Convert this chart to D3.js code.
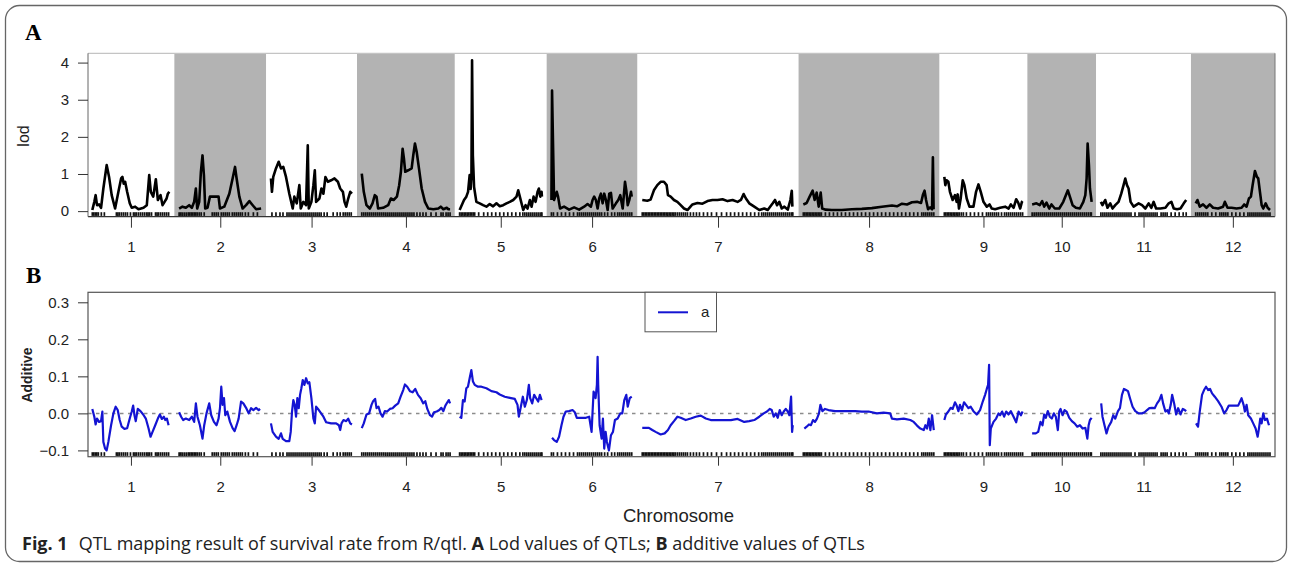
<!DOCTYPE html>
<html>
<head>
<meta charset="utf-8">
<script src="https://cdn.jsdelivr.net/npm/d3@7"></script>
<style>
  body { margin: 0; background: #fff; }
  svg { display: block; }
  .axis text { font-family: "Liberation Sans", Arial, sans-serif; font-size: 15px; fill: #222; }
  .axis line { stroke: #333; }
</style>
</head>
<body>
<svg id="chart" width="1290" height="564"></svg>
<script>
// chromosome layout (cM)
const chromosomes = ['1', '2', '3', '4', '5', '6', '7', '8', '9', '10', '11', '12']
const chrLengths = [77, 82, 81, 88, 82, 81, 151, 131, 78, 59, 85, 74]
const gap = 9.5
const lodTicks = [0, 1, 2, 3, 4]
const addTicks = [-0.1, 0, 0.1, 0.2, 0.3]

// lod profile per chromosome: [position within chromosome, lod]
const lodCurves = [
  [[0,0.03],[2,0.25],[3.3,0.43],[4.7,0.16],[6.7,0.18],[8.7,0.09],[11,0.61],[14.3,1.24],[16.7,0.92],[19.3,0.43],[22.7,0.07],[26,0.52],[28.7,0.88],[30,0.92],[31.3,0.74],[32.7,0.79],[34.7,0.52],[37.3,0.21],[39.3,0.09],[42.7,0.12],[46,0.05],[51,0.09],[54.3,0.16],[56.7,0.97],[58.3,0.52],[60.7,0.39],[63.3,0.86],[65.3,0.3],[68,0.43],[70,0.16],[72,0.25],[74,0.34],[75.3,0.47],[76.7,0.52]],
  [[0,0.07],[3.3,0.12],[6.7,0.09],[10,0.16],[12.7,0.09],[15,0.25],[16.7,0.61],[18,0.07],[20,0.25],[21.7,1.06],[23.3,1.5],[24.7,0.97],[26,0.07],[28.3,0.09],[30.7,0.39],[39.3,0.39],[40.7,0.07],[45,0.12],[50,0.47],[53.3,0.88],[55.7,1.19],[57.3,0.88],[60,0.39],[63.3,0.07],[66.7,0.16],[70,0.27],[72.7,0.18],[76.7,0.05],[81.7,0.07]],
  [[0,0.88],[1,0.52],[2.3,0.92],[5,1.15],[7.7,1.33],[10,1.15],[12.3,1.19],[15,0.92],[18.3,0.47],[21.7,0.07],[23.3,0.39],[25.7,0.21],[28.3,0.7],[29.7,0.07],[32.3,0.25],[35,0.16],[36.7,1.77],[37.7,0.07],[40.3,0.25],[42.3,0.7],[43.7,1.1],[45,0.25],[48.3,0.34],[50.3,0.61],[52.3,0.47],[54.3,0.92],[56.7,0.79],[60,0.83],[63.3,0.88],[66.7,0.79],[69,0.61],[71.7,0.52],[73.3,0.25],[75,0.12],[77,0.34],[79,0.52],[80.7,0.47]],
  [[0,1.01],[2,0.52],[4.7,0.16],[8,0.07],[10.7,0.21],[13,0.43],[14.7,0.39],[16.3,0.07],[21.3,0.09],[26.3,0.16],[29,0.34],[31.7,0.3],[35,0.39],[37.3,0.7],[39,1.06],[40.7,1.68],[42,1.42],[43.3,1.06],[46.3,1.1],[49.7,1.15],[51.3,1.5],[53,1.82],[54.7,1.6],[57,1.15],[59.7,0.61],[63,0.25],[66.3,0.07],[71.3,0.05],[76.3,0.07],[78.7,0.12],[81.3,0.05],[84.7,0.09],[86.3,0.05],[88,0.05]],
  [[0,0.03],[4.4,0.3],[6.7,0.39],[8.4,0.52],[10,0.97],[11,0.6],[11.8,1.0],[12.4,4.06],[13.2,1.5],[14.4,0.65],[16.7,0.25],[20,0.21],[23.4,0.16],[26.7,0.12],[30,0.19],[33.4,0.13],[36.7,0.21],[40,0.13],[43.4,0.16],[46.7,0.21],[50,0.25],[53.4,0.3],[56.7,0.39],[58.4,0.56],[60,0.39],[61.7,0.21],[63.4,0.03],[65.7,0.16],[67.7,0.07],[70,0.3],[71.7,0.12],[73.7,0.39],[75.7,0.25],[77.7,0.52],[79,0.61],[80.4,0.39],[81.7,0.52],[82,0.39]],
  [[0,0.3],[0.6,3.25],[2.6,0.3],[5.3,0.52],[6.6,0.39],[8.6,0.07],[12.6,0.12],[17.6,0.04],[22.6,0.1],[27.6,0.04],[32.6,0.12],[36,0.19],[39.3,0.12],[41,0.3],[42.6,0.39],[44.3,0.3],[46,0.07],[47.6,0.34],[49.3,0.47],[51,0.21],[52.6,0.47],[54.3,0.3],[56,0.03],[57.6,0.47],[59.3,0.49],[61,0.07],[64.3,0.21],[66.6,0.3],[68.6,0.43],[71,0.07],[73.3,0.79],[74.6,0.56],[76,0.16],[77.6,0.3],[79.3,0.52],[80,0.39]],
  [[0,0.3],[5,0.28],[8.3,0.31],[11.6,0.56],[15,0.7],[18.3,0.79],[21.6,0.79],[24.3,0.7],[25.6,0.43],[28.3,0.39],[31.6,0.3],[35,0.25],[38.3,0.16],[41.6,0.07],[45,0.03],[50,0.18],[55,0.22],[60,0.2],[65,0.27],[70,0.3],[75,0.3],[80,0.32],[85,0.27],[90,0.3],[95,0.25],[98.3,0.3],[101,0.46],[103.3,0.34],[106.6,0.21],[111.6,0.12],[116.6,0.03],[121.6,0.07],[125,0.03],[130,0.21],[132.3,0.3],[134.3,0.16],[136.6,0.25],[139,0.07],[141.6,0.12],[145,0.04],[147.6,0.3],[149,0.55],[149.6,0.12]],
  [[0,0.18],[3.3,0.22],[6.3,0.39],[9.3,0.55],[11.3,0.3],[13.3,0.5],[15.3,0.12],[17.3,0.5],[18.8,0.07],[22.3,0.04],[28.3,0.03],[38.3,0.03],[48.3,0.05],[58.3,0.06],[68.3,0.08],[78.3,0.12],[88.3,0.15],[93.3,0.13],[98.3,0.2],[103.3,0.18],[108.3,0.24],[113.3,0.25],[117.3,0.22],[119.3,0.45],[120.8,0.55],[122.3,0.3],[124.3,0.05],[126.3,0.1],[128.3,0.05],[129.1,1.45],[129.8,0.05]],
  [[0,0.92],[1,0.7],[2.3,0.83],[4,0.79],[5.6,0.52],[8.3,0.3],[10.6,0.43],[12.3,0.25],[13.3,0.45],[14.6,0.07],[16.3,0.34],[18.3,0.83],[20,0.7],[22.3,0.34],[25,0.12],[29,0.12],[31.6,0.52],[34,0.72],[36.3,0.52],[39,0.25],[42.3,0.12],[45,0.18],[47.3,0.07],[50.6,0.05],[55.6,0.09],[60.6,0.12],[64,0.07],[66.3,0.18],[69,0.09],[71.6,0.32],[73.6,0.23],[75.6,0.07],[77.3,0.25],[78,0.27]],
  [[0,0.18],[4.3,0.21],[7.6,0.16],[10,0.27],[12,0.12],[14.3,0.23],[17,0.07],[19.3,0.18],[22.6,0.07],[27,0.07],[31,0.25],[33.6,0.43],[35.6,0.56],[37.6,0.39],[40.3,0.16],[43.6,0.09],[47.6,0.07],[51,0.25],[53,0.43],[54.3,0.88],[55.3,1.82],[56.6,1.24],[57.6,0.61],[59.3,0.25]],
  [[0,0.25],[1.6,0.16],[4.3,0.3],[6.6,0.09],[9.3,0.21],[11.6,0.07],[14.3,0.16],[17.6,0.25],[20.3,0.47],[22.6,0.7],[24.3,0.88],[26,0.7],[27.6,0.61],[29.6,0.25],[32.6,0.12],[37.6,0.21],[41,0.16],[44.3,0.07],[47.6,0.21],[50.3,0.09],[52.6,0.25],[55,0.07],[59.3,0.07],[64.3,0.09],[67.6,0.21],[70.3,0.25],[72.6,0.07],[76,0.05],[79.3,0.07],[82.6,0.21],[85,0.3]],
  [[0,0.21],[1.7,0.3],[4,0.12],[7.3,0.18],[10.7,0.09],[14,0.18],[17.3,0.09],[22.3,0.07],[27.3,0.12],[29,0.25],[31.7,0.09],[35.7,0.09],[40.7,0.07],[45.7,0.09],[48.3,0.18],[50.7,0.12],[53,0.34],[55,0.39],[56.7,0.7],[59,1.08],[61,0.92],[62.3,0.88],[64,0.52],[65.7,0.16],[67.3,0.07],[69.7,0.21],[71.7,0.09],[74,0.03]]
]

// additive effect per chromosome: [position within chromosome, a]
const addCurves = [
  [[0,0.012],[2,-0.009],[3.3,-0.03],[4.7,-0.014],[6.7,-0.023],[8.7,-0.021],[10,0.005],[11,-0.077],[12.7,-0.095],[14.3,-0.1],[16,-0.077],[18.7,-0.032],[21,0],[23.3,0.018],[25.3,0.009],[27.3,-0.018],[29.3,-0.036],[32,-0.042],[34.7,-0.04],[37.3,-0.014],[39.3,0.005],[40.7,0.021],[42,-0.005],[43.3,-0.021],[45.3,0.012],[48,0.006],[50.7,-0.003],[53.3,-0.014],[56,-0.04],[58,-0.063],[60,-0.05],[62.7,-0.032],[65.3,-0.014],[67.3,-0.003],[69.3,-0.015],[71.3,-0.009],[72.7,-0.018],[74.3,-0.014],[76,-0.032]],
  [[0,0.003],[2,-0.009],[4,-0.018],[6.7,-0.014],[10,-0.018],[12.7,-0.009],[15,-0.023],[16.7,0.027],[18.3,-0.009],[20.7,-0.032],[23.3,-0.068],[25,-0.032],[27.3,0],[30,0.027],[32,-0.005],[34.7,-0.023],[37.3,-0.032],[39.3,-0.014],[40.7,0.014],[42,0.072],[43.3,0.023],[44.7,0.041],[46,-0.005],[48,0.005],[50.7,-0.023],[53.3,-0.04],[55.3,-0.048],[57.3,-0.032],[59.3,-0.014],[61.7,0.032],[64,0.027],[66.7,0.015],[69.3,0],[71.7,0.014],[74,0.009],[76.7,0.015],[79.3,0.009],[80.7,0.012]],
  [[0,-0.027],[1.7,-0.05],[5,-0.063],[7.7,-0.069],[10,-0.054],[11.7,-0.069],[15,-0.075],[18.3,-0.075],[19.7,-0.05],[21,0.005],[22.3,0.036],[23.7,0.023],[25,-0.009],[26.3,0.041],[27.7,0.014],[29,0.05],[30.3,0.068],[31.7,0.09],[33.3,0.077],[35,0.095],[36.7,0.081],[38.3,0.084],[40.3,0.041],[42.3,-0.014],[43.7,-0.027],[45,0.018],[47.7,0.009],[50,0],[52.3,-0.009],[55,-0.024],[60,-0.027],[65,-0.027],[67.7,-0.032],[69,-0.045],[70.3,-0.027],[72.3,-0.018],[75,-0.021],[77,-0.014],[79,-0.027],[80.7,-0.03]],
  [[0,-0.04],[2,-0.027],[4.7,-0.003],[7.3,0],[9.7,0.023],[11.3,0.033],[13.3,0.039],[14.7,0.014],[16.7,0.018],[18.7,0],[20.7,-0.009],[23,0.006],[25.3,0.005],[28,0.012],[30.7,0.014],[33.3,0.021],[36.3,0.027],[38.7,0.045],[41.3,0.063],[43,0.078],[45.3,0.072],[48,0.06],[50.7,0.057],[53.3,0.066],[56,0.05],[58.7,0.041],[61.3,0.027],[63.3,0.033],[65.3,0.012],[68,-0.005],[70,-0.009],[72,0.003],[74.7,0.005],[77.3,0.009],[79.3,0.015],[81.3,0.006],[83.3,0.021],[85.3,0.03],[86.7,0.036],[88,0.027]],
  [[0,-0.009],[1.7,-0.012],[3.3,0.036],[5,0.032],[6.7,0.068],[8.3,0.072],[10,0.095],[11.7,0.117],[13.3,0.086],[15,0.077],[18.3,0.072],[21.7,0.072],[26.7,0.068],[31.7,0.06],[36.7,0.057],[40,0.051],[45,0.045],[50,0.042],[55,0.039],[57.7,0.023],[59,-0.009],[61,0.018],[63,0.045],[65,0.018],[67,0.036],[69,0.077],[70.3,0.041],[72.3,0.027],[74.3,0.05],[76.3,0.041],[78.3,0.032],[80,0.05],[81.7,0.036]],
  [[0.6,-0.066],[2.6,-0.072],[5.3,-0.077],[7.6,-0.063],[10,-0.032],[12,-0.009],[14.3,0.005],[17.6,0.006],[21,0.009],[23.3,0.003],[25.3,-0.012],[29.3,-0.012],[34.3,-0.012],[37.6,-0.009],[40,-0.05],[42,0.059],[44,0.041],[45.3,0.077],[46,0.153],[46.6,0.077],[48,-0.032],[50,-0.068],[51.3,-0.014],[52.6,-0.095],[54,-0.05],[55.3,-0.077],[57.3,-0.1],[59.3,-0.059],[61.3,-0.05],[63.3,-0.018],[66,-0.014],[68.6,0],[70.6,0],[72.6,0.036],[74.6,0.05],[76,0.018],[78,0.041],[80,0.045]],
  [[0,-0.039],[3.3,-0.039],[6.6,-0.039],[10,-0.045],[13.3,-0.05],[18.3,-0.057],[22.3,-0.054],[25.6,-0.045],[28.3,-0.032],[31.6,-0.021],[35,-0.009],[38.3,-0.012],[43.3,-0.018],[48.3,-0.014],[53.3,-0.009],[58.3,-0.006],[63.3,-0.014],[68.3,-0.018],[75,-0.018],[81.6,-0.018],[88.3,-0.018],[95,-0.015],[101.6,-0.023],[106.6,-0.021],[111.6,-0.018],[116.6,-0.009],[121,0],[124.3,0.005],[127,0.012],[129,0.009],[131,-0.009],[133,0],[135,-0.012],[137,0.009],[139,-0.005],[141,0.005],[143,0.012],[145,0.005],[146.6,-0.005],[148.3,0.045],[149.3,-0.05],[150,-0.032]],
  [[1,-0.041],[3.3,-0.036],[5.6,-0.03],[7.6,-0.032],[9.6,-0.018],[11.6,-0.023],[13.6,-0.014],[15.6,0],[17,0.023],[19,0.006],[21.6,0.012],[25,0.009],[31.6,0.006],[38.3,0.006],[45,0.006],[51.6,0.006],[58.3,0.005],[65,0.005],[73.3,0],[80,0.002],[86.6,0],[88.3,-0.014],[93.3,-0.016],[100,-0.014],[106.6,-0.018],[110,-0.023],[113.3,-0.033],[116.6,-0.041],[120,-0.045],[121.6,-0.032],[123.3,-0.041],[125,-0.014],[126.6,-0.045],[128.3,-0.005],[130,-0.045]],
  [[0,-0.018],[1.6,-0.003],[4,0.005],[6.3,0.015],[8.3,0.012],[10.6,0.03],[12.3,0.021],[14,0.006],[15.6,0.023],[17.6,0.009],[19.6,0.03],[21.6,0.023],[24,0.014],[26.3,0.018],[29,0.006],[32.3,-0.003],[35.6,0.009],[38.3,0.032],[40.6,0.05],[42.3,0.066],[43.6,0.077],[44.6,0.131],[45.3,-0.086],[46.3,-0.041],[49,-0.023],[51.6,-0.014],[54,0],[55.6,-0.005],[57.6,0.005],[59.6,-0.009],[61.6,0.005],[64,-0.003],[66.3,0.006],[69,-0.009],[71.6,-0.024],[74,0.005],[76.3,-0.005],[78,0.005]],
  [[0,-0.054],[3.6,-0.054],[6,-0.05],[8.3,-0.023],[10.3,-0.032],[12,-0.003],[13.6,-0.012],[15.6,0.006],[17.6,-0.009],[19.6,-0.014],[21.6,0],[23.6,-0.009],[25.6,-0.045],[27,0.005],[28.3,0.012],[30.3,-0.005],[32.3,0.009],[34.3,0.005],[37,-0.012],[39.6,-0.021],[42.3,-0.027],[45,-0.036],[47.6,-0.032],[50.3,-0.041],[53,-0.039],[55,-0.068],[56.3,-0.032],[57.6,-0.018],[59.3,-0.012]],
  [[0.3,0.027],[1.6,-0.009],[3.6,-0.032],[5.6,-0.054],[7.6,-0.036],[10.3,-0.023],[12.3,-0.005],[14.3,-0.014],[17,0.006],[19,0.014],[21,0.05],[23,0.066],[25,0.063],[27,0.06],[29,0.041],[31.6,0.018],[34.3,0.006],[37.6,0],[41,0],[43.6,0.003],[46,0.009],[48.3,0.014],[51,0.015],[53.6,0.014],[56,0.027],[58.3,0.036],[60.3,0.05],[62,0.027],[64.3,0.005],[66.3,0.009],[67.6,0],[69.6,0.023],[71,0.05],[73,0.027],[75,-0.003],[77,0.014],[79.3,-0.003],[81.6,0.012],[83.6,0.009],[85,0.006]],
  [[0.3,-0.027],[2.3,-0.036],[4,0.005],[6.3,0.05],[8.3,0.063],[10.3,0.072],[12.3,0.063],[14.3,0.066],[16.3,0.054],[19,0.045],[22.3,0.033],[25.7,0.018],[28.3,0],[30.7,0.009],[33,0.021],[35.7,0.021],[39,0.021],[42.3,0.021],[45.7,0.041],[47.7,0.023],[49,0.005],[50.7,0.023],[52.3,-0.005],[55,-0.014],[57.3,-0.027],[59.7,-0.041],[61.7,-0.063],[63,-0.041],[64.3,-0.014],[65.7,-0.027],[67.3,0],[69,-0.018],[71,-0.014],[73,-0.032]]
]

// marker positions (cM within chromosome)
const markers = [
  [0,1.5,3,4.5,6,9,12,24,25.5,27,29,31,33,35,38,41,42.5,44,46,48,50,52,54,55.5,57,59,63,64.5,66,68,70,72,74,76],
  [0,1.5,3,5,7,9,10.5,12,13.5,15,16.5,18,20,22,25,33,35,37,39,42,44,46,48,50,53,55,57,59,61,63,66,69,74,78],
  [1,5,9,12,16,18,20,22,24,26,28,30,32,34,36,38,40,42,44,46,48,50,53,56,62,66,69,72,74,76,78,80],
  [0,2,4,6,8,10,12,14,16,18,20,22,24,26,28,30,32,34,36,38,40,42,44,46,48,50,52,55,58,61,64,69,74,79,81,84,86,88],
  [0,1.5,3,4.5,6,7.5,9,10.5,12,13.5,15,19,24,28,32,36,40,44,48,52,56,60,63,65,67,69,71,73,75,77,79,81,82],
  [0,2,6,10,14,18,22,26,28,30,32,34,36,38,40,42,44,46,48,50,53,56,60,63,66,68,70,72,74,76,78,80],
  [0,1.5,3,4.5,6,7.5,9,10.5,12,13.5,15,16.5,18,19.5,21,22.5,24,25.5,27,28.5,30,31.5,33,35,37,39,41,43,45,48,51,54,57,61,65,69,74,79,84,88,92,96,100,104,108,112,116,119,121,123,125,127,129,131,133,135,137,139,141,143,145,147,149,150],
  [0,1.5,3,4.5,6,7.5,9,10.5,12,13.5,15,16.5,18,22,26,30,34,38,42,46,50,54,58,62,66,70,74,78,82,86,90,94,98,102,106,110,114,118,120,122,124,126,128,130],
  [0,1.5,3,4.5,6,7.5,9,10.5,12,13.5,15,17,19,22,26,30,34,38,42,44,46,48,50,52,54,57,60,62,64,66,68,70,72,74,76,78],
  [0,2,4,6,8,10,12,14,16,18,20,22,24,26,28,30,32,34,36,38,40,42,44,46,48,50,52,54,56,58,59],
  [0,2,4,6,8,10,12,14,16,18,20,22,24,26,28,30,34,38,40,42,44,46,48,50,52,54,56,60,62,64,66,70,74,78,82,85],
  [0,2,4,6,8,10,12,16,20,24,26,28,30,32,36,40,44,48,52,54,56,58,60,62,64,66,68,70,72,74]
]

const svg = d3.select('#chart')
const left = 88, right = 1275

// chromosome start positions
const starts = []
let acc = 0
chrLengths.forEach((len, i) => { starts.push(acc); acc += len + gap })
const total = acc - gap
const mids = chrLengths.map((len, i) => starts[i] + len / 2)

const x = d3.scaleLinear().domain([-4.3, total + 5]).range([left, right])

// outer frame
svg.append('rect')
  .attr('x', 5.5).attr('y', 5.5)
  .attr('width', 1281).attr('height', 556)
  .attr('rx', 14)
  .attr('fill', 'none')
  .attr('stroke', '#666')
  .attr('stroke-width', 1.3)

const label = (txt, xx, yy) => svg.append('text')
  .attr('x', xx).attr('y', yy)
  .attr('font-family', '"Liberation Serif", "Times New Roman", serif')
  .attr('font-weight', 'bold')
  .attr('font-size', 23)
  .text(txt)

label('A', 25, 40)
label('B', 26, 283)

// ---------- panel A ----------
const topA = 53.3, botA = 216.7
const yA = d3.scaleLinear().domain([-0.15, 4.25]).range([botA, topA])

const gA = svg.append('g')
gA.append('defs').append('clipPath').attr('id', 'clipA')
  .append('rect').attr('x', left).attr('y', topA).attr('width', right - left).attr('height', botA - topA)

gA.append('g').attr('clip-path', 'url(#clipA)')
  .selectAll('rect.band')
  .data(chrLengths)
  .enter()
  .append('rect')
  .attr('class', 'band')
  .attr('x', (d, i) => i === 0 ? left : x(starts[i] - gap / 2))
  .attr('width', (d, i) => {
    const x0 = i === 0 ? left : x(starts[i] - gap / 2)
    const x1 = i === chrLengths.length - 1 ? right : x(starts[i] + d + gap / 2)
    return x1 - x0
  })
  .attr('y', topA).attr('height', botA - topA)
  .attr('fill', (d, i) => i % 2 === 1 ? '#b3b3b3' : '#fff')

// marker rug
const rug = (g, yb) => {
  markers.forEach((ms, i) => {
    g.selectAll(null)
      .data(ms)
      .enter()
      .append('line')
      .attr('x1', d => x(starts[i] + d)).attr('x2', d => x(starts[i] + d))
      .attr('y1', yb - 4.5).attr('y2', yb - 0.8)
      .attr('stroke', '#111')
      .attr('stroke-width', 1.7)
  })
}
rug(gA, botA)

const lineA = d3.line().x(d => d.x).y(d => yA(d.v))
lodCurves.forEach((pts, i) => {
  gA.append('path')
    .datum(pts.map(p => ({ x: x(starts[i] + p[0]), v: p[1] })))
    .attr('d', lineA)
    .attr('fill', 'none')
    .attr('stroke', '#000')
    .attr('stroke-width', 2.6)
    .attr('stroke-linejoin', 'round')
})

// frame of A
gA.append('line').attr('x1', left).attr('x2', right).attr('y1', topA).attr('y2', topA)
  .attr('stroke', '#c4c4c4').attr('stroke-width', 1.2)
gA.append('line').attr('x1', left).attr('x2', right).attr('y1', botA).attr('y2', botA)
  .attr('stroke', '#333').attr('stroke-width', 1.2)
gA.append('line').attr('x1', left).attr('x2', left).attr('y1', topA).attr('y2', botA)
  .attr('stroke', '#666').attr('stroke-width', 1)
gA.append('line').attr('x1', right).attr('x2', right).attr('y1', topA).attr('y2', botA)
  .attr('stroke', '#777').attr('stroke-width', 1)

const yAxisA = gA.append('g')
  .attr('class', 'axis')
  .attr('transform', `translate(${left},0)`)
  .call(d3.axisLeft(yA).tickValues(lodTicks).tickSize(10).tickPadding(9).tickFormat(d3.format('d')))
yAxisA.select('.domain').remove()

const xAxisA = gA.append('g')
  .attr('class', 'axis')
  .attr('transform', `translate(0,${botA})`)
  .call(d3.axisBottom(x).tickValues(mids).tickSize(11).tickPadding(13.5).tickFormat((d, i) => chromosomes[i]))
xAxisA.select('.domain').remove()

svg.append('text')
  .attr('transform', `translate(29,136) rotate(-90)`)
  .attr('text-anchor', 'middle')
  .attr('font-family', '"Liberation Sans", Arial, sans-serif')
  .attr('font-size', 16)
  .attr('fill', '#222')
  .text('lod')

// ---------- panel B ----------
const topB = 292.3, botB = 456.7
const yB = d3.scaleLinear().domain([-0.117, 0.327]).range([botB, topB])
const gB = svg.append('g')

gB.append('line')
  .attr('x1', left).attr('x2', right)
  .attr('y1', yB(0)).attr('y2', yB(0))
  .attr('stroke', '#8c8c8c')
  .attr('stroke-width', 1.5)
  .attr('stroke-dasharray', '3.5,4.5')

rug(gB, botB)

const lineB = d3.line().x(d => d.x).y(d => yB(d.v))
addCurves.forEach((pts, i) => {
  gB.append('path')
    .datum(pts.map(p => ({ x: x(starts[i] + p[0]), v: p[1] })))
    .attr('d', lineB)
    .attr('fill', 'none')
    .attr('stroke', '#1414d2')
    .attr('stroke-width', 2.2)
    .attr('stroke-linejoin', 'round')
})

gB.append('rect')
  .attr('x', left).attr('y', topB)
  .attr('width', right - left).attr('height', botB - topB)
  .attr('fill', 'none')
  .attr('stroke', '#555')
  .attr('stroke-width', 1.2)

const yAxisB = gB.append('g')
  .attr('class', 'axis')
  .attr('transform', `translate(${left},0)`)
  .call(d3.axisLeft(yB).tickValues(addTicks).tickSize(10).tickPadding(9).tickFormat(d3.format('.1f')))
yAxisB.select('.domain').remove()

const xAxisB = gB.append('g')
  .attr('class', 'axis')
  .attr('transform', `translate(0,${botB})`)
  .call(d3.axisBottom(x).tickValues(mids).tickSize(9).tickPadding(15.5).tickFormat((d, i) => chromosomes[i]))
xAxisB.select('.domain').remove()

svg.append('text')
  .attr('transform', `translate(32,375) rotate(-90)`)
  .attr('text-anchor', 'middle')
  .attr('font-family', '"Liberation Sans", Arial, sans-serif')
  .attr('font-weight', 'bold')
  .attr('font-size', 14)
  .attr('fill', '#222')
  .text('Additive')

svg.append('text')
  .attr('x', (left + right) / 2 - 3).attr('y', 521.5)
  .attr('text-anchor', 'middle')
  .attr('font-family', '"Liberation Sans", Arial, sans-serif')
  .attr('font-size', 18.5)
  .attr('fill', '#222')
  .text('Chromosome')

// legend
const leg = gB.append('g')
leg.append('rect')
  .attr('x', 645).attr('y', topB)
  .attr('width', 71.5).attr('height', 39.5)
  .attr('fill', '#fff')
  .attr('stroke', '#555')
  .attr('stroke-width', 1)
leg.append('line')
  .attr('x1', 658).attr('x2', 688).attr('y1', 312.3).attr('y2', 312.3)
  .attr('stroke', '#1414d2').attr('stroke-width', 2)
leg.append('text')
  .attr('x', 701).attr('y', 317)
  .attr('font-family', '"Liberation Sans", Arial, sans-serif')
  .attr('font-size', 15)
  .attr('fill', '#222')
  .text('a')

// caption
const cap = svg.append('text')
  .attr('x', 22).attr('y', 550)
  .attr('font-family', '"Open Sans", "Noto Sans", sans-serif')
  .attr('font-size', 18)
  .attr('fill', '#222')
cap.append('tspan').attr('font-weight', 'bold').text('Fig. 1')
cap.append('tspan').attr('dx', 11).text('QTL mapping result of survival rate from R/qtl. ')
cap.append('tspan').attr('font-weight', 'bold').text('A')
cap.append('tspan').text(' Lod values of QTLs; ')
cap.append('tspan').attr('font-weight', 'bold').text('B')
cap.append('tspan').text(' additive values of QTLs')
</script>
</body>
</html>
